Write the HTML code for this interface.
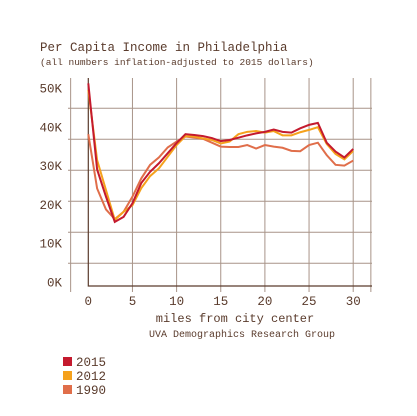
<!DOCTYPE html>
<html><head><meta charset="utf-8"><style>
body{margin:0;background:#fff;}
svg{display:block;font-family:"Liberation Mono",monospace;fill:#5a3b2c;}
</style></head><body>
<svg id="c" width="417" height="416" viewBox="0 0 417 416">
<text x="40" y="51" font-size="12.5">Per Capita Income in Philadelphia</text>
<text x="40" y="65" font-size="9.5">(all numbers inflation-adjusted to 2015 dollars)</text>
<g id="grid"></g>
<g id="ylab"></g>
<g id="xlab"></g>
<g id="lines"></g>
<text x="235" y="322" font-size="12" text-anchor="middle">miles from city center</text>
<text x="242" y="337" font-size="10" text-anchor="middle">UVA Demographics Research Group</text>
<g id="legend"></g>
</svg>
<script>
const xs=[0,1,2,3,4,5,6,7,8,9,10,11,12,13,14,15,16,17,18,19,20,21,22,23,24,25,26,27,28,29,30];
const s2015=[51.2,29,22,15.5,16.8,20.3,25.5,28.4,30.6,33.2,35.8,38.1,37.9,37.6,37.1,36.3,36.6,37.2,37.8,38.3,38.7,39.3,38.7,38.5,39.6,40.5,41,35.9,33.6,32.1,34.3];
const s2012=[49.5,31.4,23.7,16,18.1,19.8,24.2,27.3,29.3,32.3,35.3,37.6,37.5,37,36.6,35.7,36.2,38.1,38.7,38.9,38.5,38.9,37.8,37.8,38.6,39.2,39.9,35.6,33,31.6,33.8];
const s1990=[38.1,24.1,18.7,16.2,18.1,22,26.7,30.2,32.1,34.7,36.2,37.5,37.2,36.9,35.9,34.9,34.8,34.8,35.3,34.4,35.3,34.9,34.6,33.8,33.7,35.3,35.9,32.7,30.2,30,31.3];
const yTicks=[0,10,20,30,40,50];
const yTickLabels=["0K","10K","20K","30K","40K","50K"];
const xTicks=[0,5,10,15,20,25,30];
const xGrid=[-2,5,10,15,20,25,30,32];
const series=[["2015","#c41a2e",s2015],["2012","#f5a11c",s2012],["1990","#e06e4a",s1990]];
const X=v=>88.3+v*8.83;
const Y=v=>282-v*3.88;
const NS="http://www.w3.org/2000/svg";
function mk(t,a,p){const e=document.createElementNS(NS,t);for(const k in a)e.setAttribute(k,a[k]);p.appendChild(e);return e;}
const g=document.getElementById('grid');
for(let i=0;i<6;i++){const e=mk('line',{x1:68,x2:372,y1:108.3+i*31,y2:108.3+i*31,stroke:'#a89488','stroke-width':1},g);

}
xGrid.forEach(v=>{const e=mk('line',{x1:X(v),x2:X(v),y1:78,y2:292,stroke:'#a89488','stroke-width':1},g);

});
const ax=mk('path',{d:'M88.3 78 V286 H372',fill:'none',stroke:'#5a3b2c','stroke-width':1.2},g);


const yl=document.getElementById('ylab');
yTicks.forEach((v,i)=>{const t=mk('text',{x:62,y:Y(v)+4.5,'font-size':12.5,'text-anchor':'end'},yl);t.textContent=yTickLabels[i];

});
const xl=document.getElementById('xlab');
xTicks.forEach(v=>{const t=mk('text',{x:X(v),y:305,'font-size':12.5,'text-anchor':'middle'},xl);t.textContent=v;

});
const ln=document.getElementById('lines');
[...series].reverse().forEach(s=>{const p=mk('polyline',{points:xs.map((x,i)=>X(x)+','+Y(s[2][i])).join(' '),fill:'none',stroke:s[1],'stroke-width':2},ln);

});
const lg=document.getElementById('legend');
series.forEach((s,i)=>{const r=mk('rect',{x:63,y:357+i*14,width:9,height:9,fill:s[1]},lg);


const t=mk('text',{x:76,y:366+i*14,'font-size':12.5},lg);t.textContent=s[0];

});
</script>
</body></html>
